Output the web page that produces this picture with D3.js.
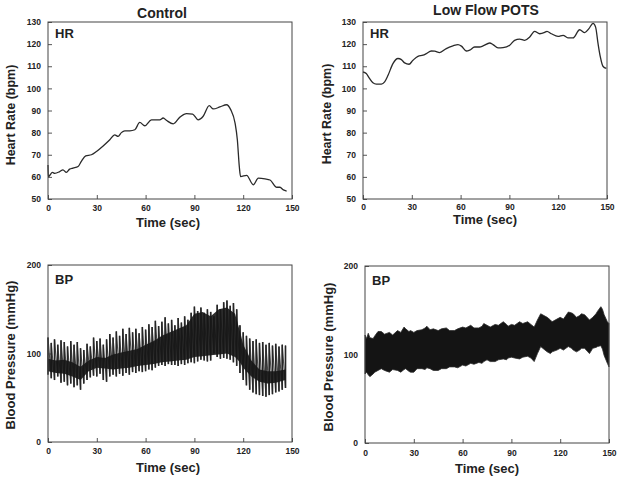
<!DOCTYPE html>
<html><head><meta charset="utf-8">
<script src="https://cdn.jsdelivr.net/npm/d3@7"></script>
<style>
body{margin:0;background:#fff;}
svg{display:block;font-family:"Liberation Sans",Arial,sans-serif;}
</style></head>
<body>
<svg id="c" width="621" height="482"></svg>
<script>
// ---------------- DATA ----------------
const panelTitles = ["Control", "Low Flow POTS"];
const timeTicks = [0, 30, 60, 90, 120, 150];
const hrTicks = [50, 60, 70, 80, 90, 100, 110, 120, 130];
const bpTicks = [0, 100, 200];

// Heart rate, Control
const hrCtrlT = [0,0.2,1,2.7,4.1,7.2,9.2,11.3,13.3,15.4,18.5,20.5,23.2,26.7,29.8,33.9,38,41,43.1,45.1,47.2,50.3,53.4,56.4,59.5,63.6,68.7,70.8,72.9,77,81.1,85.2,88.9,92.3,95.4,99.1,101.6,105.7,109.8,112.3,115,116.4,117.6,118.4,122.1,126.2,129.3,133.4,136.5,140.6,142.6,144.7,146.7];
const hrCtrlV = [65.4,60.1,60.6,62,61.6,62.4,63.2,62,63.5,64,64.7,67,69.5,70,71.5,74,76.8,79,78.3,80,80.8,80.8,81.3,84.6,83.1,85.8,85.8,86.6,85.5,84,87,88.6,88.4,85.8,87.4,92.2,90.7,91.6,92.6,90.4,84.3,76.8,64.7,60.1,60.7,56.4,59.4,59.1,58.6,55.3,55.3,54.1,53.6];

// Heart rate, Low Flow POTS
const hrPotsT = [0,2,4.1,6.1,8.2,11.3,13.3,15.4,18.4,21.5,23.6,25.6,28.3,30.7,33.8,36.9,38.9,42,44.1,47.1,51.2,55.3,58.4,60.5,63.5,65.6,68.6,71.7,73.8,77.9,79.9,83,86.1,90.2,93.2,96.3,99.4,102.5,105.5,108.6,111.7,113.1,115.8,119.9,123,126,129.1,133.2,136.3,138.9,141.4,143,144.5,145.9,147.5,149.6];
const hrPotsV = [107.4,106.7,104.4,102.5,101.9,101.9,102.9,105.9,111.2,113.5,113,111.5,110.9,112.7,114.5,115,115.7,116.9,116.8,116.2,118,119.2,119.8,119.1,116.9,117.3,118.7,118.7,119.2,120.5,119.8,118.3,118.4,119.5,121.7,122.3,121.7,123.2,125.8,124.7,125.3,125.8,124.7,123.5,124,122.8,122.8,126.5,125.2,127,129.4,127.7,120.2,114.2,110,109];

// Blood pressure, Control: beat samples (systolic / diastolic)
const bpCtrlT = [0,2,4,6,8,10,12,14,16,18,20,22,24,26,28,30,32,34,36,38,40,42,44,46,48,50,52,54,56,58,60,62,64,66,68,70,72,74,76,78,80,82,84,86,88,90,92,94,96,98,100,102,104,106,108,110,112,114,116,118,120,122,124,126,128,130,132,134,136,138,140,142,144,146];
const bpCtrlSys = [118,112,116,110,115,113,108,114,110,113,106,104,111,108,118,114,117,110,116,122,118,125,120,128,122,129,124,128,123,130,127,133,130,137,131,136,141,134,138,132,140,135,142,138,146,153,148,152,146,150,147,142,155,150,158,160,154,157,150,132,124,120,117,114,116,112,113,110,112,109,111,108,110,109];
const bpCtrlDia = [76,72,70,74,67,68,64,66,62,64,59,66,70,73,75,74,77,70,68,74,76,74,77,75,78,76,79,78,80,79,80,82,81,84,86,87,86,88,87,87,86,88,87,89,90,89,91,93,92,91,92,100,96,94,95,94,93,90,86,78,70,64,59,56,54,53,52,51,53,54,56,57,59,61];
// Control BP dense (dark) core band
const bpCoreT = [0,5,10,15,20,25,30,35,40,45,50,55,60,65,70,75,80,85,90,95,100,105,110,115,118,120,125,130,135,140,146];
const bpCoreLo = [80,78,77,74,70,80,84,83,82,83,84,86,87,88,90,91,92,93,96,97,98,99,100,96,90,84,74,68,66,67,70];
const bpCoreHi = [94,92,93,90,85,92,96,95,99,101,103,105,110,114,120,124,128,132,145,147,142,150,152,145,125,110,92,82,80,80,82];

// Blood pressure, Low Flow POTS: envelope
const bpPotsT = [0,1,2,3,5,6,8,10,12,15,17,20,22,24,25,27,28,30,32,35,37,38,40,42,45,47,50,52,55,57,60,62,65,67,70,72,73,75,77,80,82,85,87,88,90,92,95,97,100,102,104,106,108,110,112,114,115,118,120,122,125,127,128,130,132,133,135,137,138,140,142,143,145,146,147,149,150];
const bpPotsHi = [122,118,124,119,118,121,126,126,123,125,122,127,125,131,129,126,127,125,127,128,130,132,128,129,127,129,130,127,127,129,131,130,133,130,130,132,135,133,131,134,133,137,134,132,134,133,137,135,137,134,131,139,146,144,142,139,137,140,142,140,148,147,146,142,144,146,145,141,139,142,146,149,154,151,145,137,135];
const bpPotsLo = [78,80,77,75,78,80,82,84,82,80,83,82,80,83,84,81,80,80,84,84,83,85,84,82,82,84,84,86,86,85,88,87,90,89,91,90,92,94,92,92,94,95,94,96,97,96,95,97,98,96,92,101,109,106,103,101,103,105,107,105,109,107,105,103,105,107,107,103,101,107,108,109,110,106,99,90,86];

// ---------------- LAYOUT ----------------
const svg = d3.select("#c");
const FONT = "'Liberation Sans', Arial, sans-serif";
const panels = [
  {l:48, t:22, w:244, h:177, yDom:[50,130], yTicks:hrTicks, ylab:"Heart Rate (bpm)", tag:"HR", title:panelTitles[0], titleX:162, titleY:18,
   ylabX:15, ylabY:115, xlabY:227, xlabX:168, xTickPad:5.5},
  {l:363, t:22, w:244, h:177, yDom:[50,130], yTicks:hrTicks, ylab:"Heart Rate (bpm)", tag:"HR", title:panelTitles[1], titleX:486, titleY:15,
   ylabX:331, ylabY:114, xlabY:224, xlabX:485, xTickPad:5},
  {l:48, t:265, w:244, h:177, yDom:[0,200], yTicks:bpTicks, ylab:"Blood Pressure (mmHg)", tag:"BP",
   ylabX:15, ylabY:355, xlabY:472, xlabX:168, xTickPad:6},
  {l:365, t:266, w:244, h:177, yDom:[0,200], yTicks:bpTicks, ylab:"Blood Pressure (mmHg)", tag:"BP",
   ylabX:333, ylabY:357, xlabY:473, xlabX:487, xTickPad:6.5}
];

panels.forEach((p, i) => {
  const g = svg.append("g").attr("transform", `translate(${p.l},${p.t})`);
  p.g = g;
  p.x = d3.scaleLinear().domain([0,150]).range([0,p.w]);
  p.y = d3.scaleLinear().domain(p.yDom).range([p.h,0]);

  const xa = g.append("g").attr("transform", `translate(0,${p.h})`)
    .call(d3.axisBottom(p.x).tickValues(timeTicks).tickSizeInner(-4).tickSizeOuter(0).tickPadding(p.xTickPad));
  const ya = g.append("g")
    .call(d3.axisLeft(p.y).tickValues(p.yTicks).tickSizeInner(-4).tickSizeOuter(0).tickPadding(7));
  [xa, ya].forEach(a => {
    a.select(".domain").remove();
    a.selectAll("line").attr("stroke", "#555");
    a.selectAll("text").attr("fill", "#222").style("font-family", FONT)
      .style("font-weight", "bold").style("font-size", "8.5px");
  });

  g.append("text").attr("x", p.xlabX - p.l).attr("y", p.xlabY - p.t)
    .attr("text-anchor", "middle").style("font-family", FONT).style("font-weight", "bold")
    .style("font-size", "13px").attr("fill", "#222").text("Time (sec)");

  svg.append("text").attr("transform", `translate(${p.ylabX},${p.ylabY}) rotate(-90)`)
    .attr("text-anchor", "middle").style("font-family", FONT).style("font-weight", "bold")
    .style("font-size", p.tag === "HR" ? "12.5px" : "13px").attr("fill", "#222").text(p.ylab);

  if (p.title) {
    svg.append("text").attr("x", p.titleX).attr("y", p.titleY).attr("text-anchor", "middle")
      .style("font-family", FONT).style("font-weight", "bold").style("font-size", "14px")
      .attr("fill", "#222").text(p.title);
  }
});

// ---------------- MARKS ----------------
function hrLine(p, T, V) {
  const line = d3.line().x((d,i) => p.x(T[i])).y(d => p.y(d)).curve(d3.curveMonotoneX);
  p.g.append("path").datum(V).attr("d", line).attr("fill", "none")
    .attr("stroke", "#2a2a2a").attr("stroke-width", 1.3).attr("stroke-linejoin", "round");
}
hrLine(panels[0], hrCtrlT, hrCtrlV);
hrLine(panels[1], hrPotsT, hrPotsV);

// Control BP
{
  const p = panels[2];
  // waveform decays between beats
  const pts = [];
  bpCtrlT.forEach((t,i) => { pts.push([t, bpCtrlSys[i]]); if (i < bpCtrlT.length-1) pts.push([bpCtrlT[i+1], bpCtrlDia[i+1]]); });
  p.g.append("path").datum(pts).attr("d", d3.line().x(d => p.x(d[0])).y(d => p.y(d[1])))
    .attr("fill", "none").attr("stroke", "#4a4a4a").attr("stroke-width", 1.1);
  p.g.append("g").selectAll("line").data(bpCtrlT).join("line")
    .attr("x1", (d) => p.x(d)).attr("x2", (d) => p.x(d))
    .attr("y1", (d,i) => p.y(bpCtrlSys[i])).attr("y2", (d,i) => p.y(bpCtrlDia[i]))
    .attr("stroke", "#262626").attr("stroke-width", 1.6);
  const core = d3.area().x((d,i) => p.x(bpCoreT[i])).y0((d,i) => p.y(bpCoreLo[i])).y1(d => p.y(d));
  p.g.append("path").datum(bpCoreHi).attr("d", core).attr("fill", "#161616").attr("fill-opacity", 0.9);
}

// POTS BP
{
  const p = panels[3];
  const band = d3.area().x((d,i) => p.x(bpPotsT[i])).y0((d,i) => p.y(bpPotsLo[i])).y1(d => p.y(d));
  p.g.append("path").datum(bpPotsHi).attr("d", band).attr("fill", "#141414")
    .attr("stroke", "#2a2a2a").attr("stroke-width", 0.8);
}

// frames and tags (on top)
panels.forEach(p => {
  p.g.append("rect").attr("width", p.w).attr("height", p.h).attr("fill", "none")
    .attr("stroke", "#444").attr("stroke-width", 1);
  p.g.append("text").attr("x", 7).attr("y", p.tag === "HR" ? 15.5 : 19)
    .style("font-family", FONT).style("font-weight", "bold").style("font-size", "13px")
    .attr("fill", "#222").text(p.tag);
});
</script>
</body></html>
